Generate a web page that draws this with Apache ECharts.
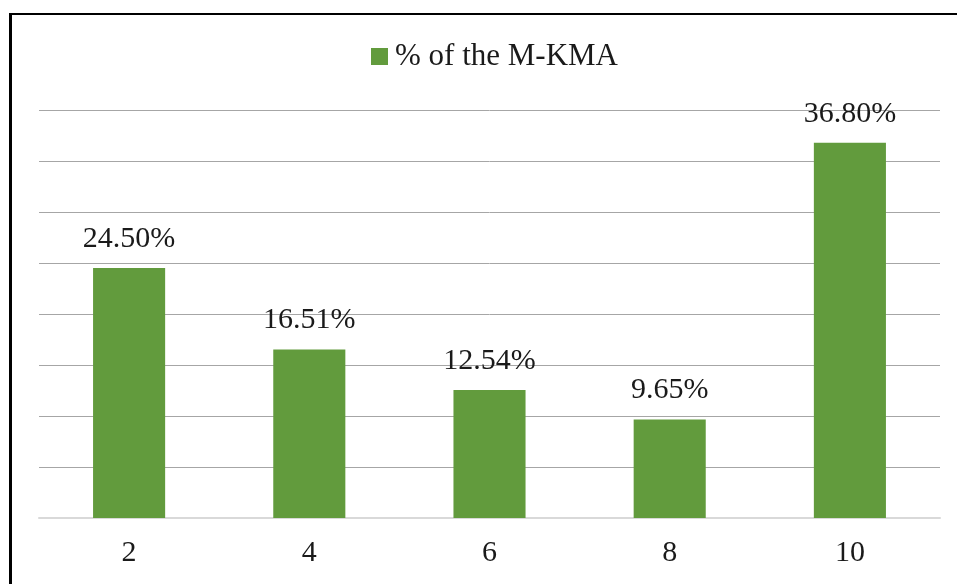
<!DOCTYPE html>
<html>
<head>
<meta charset="utf-8">
<script src="https://cdn.jsdelivr.net/npm/echarts@6/dist/echarts.min.js"></script>
<style>
  html, body { margin: 0; padding: 0; background: #fff; overflow: hidden; }
  #frame { position: absolute; left: 9px; top: 13px; width: 1000px; height: 600px;
           border-left: 3px solid #000; border-top: 2px solid #000; box-sizing: border-box; }
  #chart { position: absolute; left: 0; top: 0; width: 957px; height: 584px; }
</style>
</head>
<body>
<div id="frame"></div>
<div id="chart"></div>
<script>
// Categories and share of the M-KMA (%)
const categories = ['2', '4', '6', '8', '10'];
const shareValues = [24.50, 16.51, 12.54, 9.65, 36.80];
const seriesName = '% of the M-KMA';

const fontFamily = '"Liberation Serif", "DejaVu Serif", serif';
const textColor = '#1a1a1a';

const chart = echarts.init(document.getElementById('chart'), null, { renderer: 'canvas' });
chart.setOption({
  animation: false,
  backgroundColor: 'transparent',
  legend: {
    data: [seriesName],
    top: 36,
    left: 366,
    itemWidth: 17,
    itemHeight: 17,
    itemGap: 6,
    icon: 'rect',
    textStyle: { fontFamily, fontSize: 31, color: textColor, padding: [0, 0, 0, 2] }
  },
  grid: { left: 39, right: 17, top: 110, bottom: 66 },
  xAxis: {
    type: 'category',
    data: categories,
    axisLine: { lineStyle: { color: '#d9d9d9', width: 2 } },
    axisTick: { show: false },
    axisLabel: { fontFamily, fontSize: 30, color: textColor, margin: 20 }
  },
  yAxis: {
    type: 'value',
    min: 0,
    max: 40,
    interval: 5,
    axisLabel: { show: false },
    axisLine: { show: false },
    axisTick: { show: false },
    splitLine: { lineStyle: { color: '#a6a6a6', width: 1 } }
  },
  series: [{
    name: seriesName,
    type: 'bar',
    data: shareValues,
    barCategoryGap: '60%',
    itemStyle: { color: '#629b3d' },
    label: {
      show: true,
      position: 'top',
      distance: 14,
      fontFamily,
      fontSize: 30,
      color: textColor,
      formatter: p => p.value.toFixed(2) + '%'
    }
  }]
});
</script>
</body>
</html>
